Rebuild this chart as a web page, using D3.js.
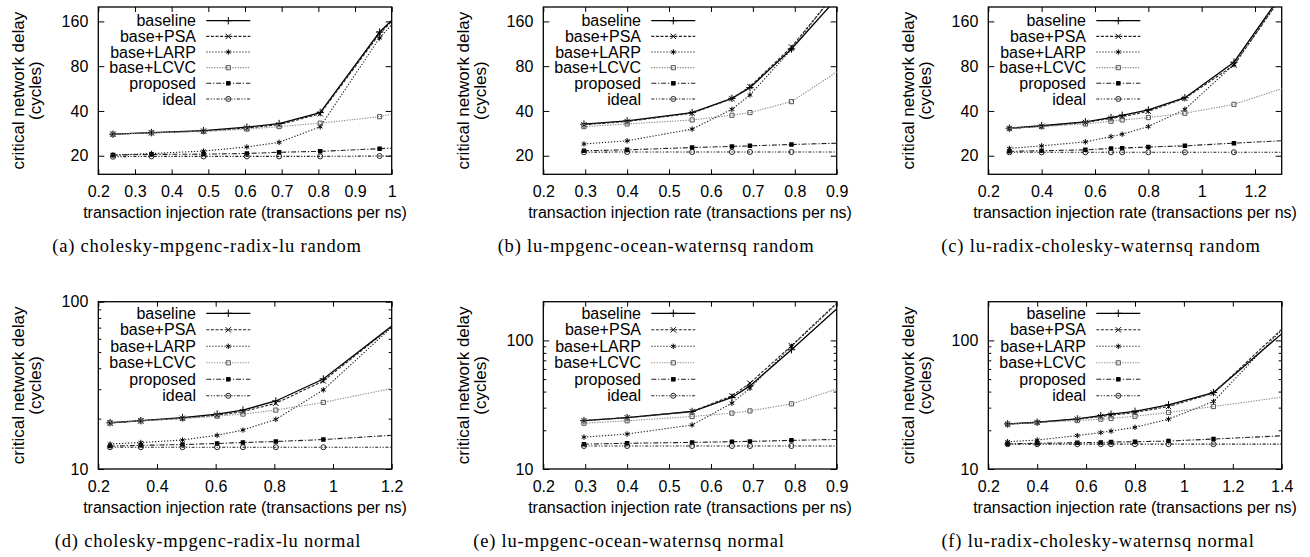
<!DOCTYPE html>
<html>
<head>
<meta charset="utf-8">
<script src="https://cdn.jsdelivr.net/npm/d3@7"></script>
<style>
  body { margin: 0; background: #fff; }
  svg { display: block; }
</style>
</head>
<body>
<div id="chart"></div>
<script>
// series names, same order in every delay table
var seriesNames = ["baseline", "base+PSA", "base+LARP", "base+LCVC", "proposed", "ideal"];

// injection rates (transactions per ns) for the three workload mixes
var ratesA = [0.24, 0.345, 0.487, 0.605, 0.693, 0.805, 0.967, 1.25];
var ratesB = [0.297, 0.40, 0.555, 0.65, 0.693, 0.792, 0.95];
var ratesC = [0.279, 0.40, 0.564, 0.66, 0.702, 0.80, 0.937, 1.121, 1.45];

// critical network delay (cycles), rows = seriesNames
var delaysARandom = [
    [27.9, 28.6, 29.5, 31.1, 32.9, 39.0, 135.7, 637],
    [27.9, 28.5, 29.3, 30.7, 32.3, 38.3, 132, 688],
    [20.2, 20.7, 21.5, 22.9, 24.6, 31.3, 123.8, 720],
    [27.9, 28.5, 29.1, 30.2, 31.4, 33.1, 36.6, 50.5],
    [20.2, 20.4, 20.5, 20.7, 21.1, 21.4, 22.3, 24.1],
    [19.7, 19.8, 19.8, 19.8, 19.8, 19.8, 19.9, 19.9]
];
var delaysBRandom = [
    [32.6, 34.3, 39.0, 48.6, 57.4, 104.5, 327],
    [32.3, 34.0, 38.6, 48.4, 58.3, 107.7, 375],
    [24.0, 25.2, 30.2, 41.0, 51.2, 103.7, 390],
    [31.4, 32.7, 34.8, 37.4, 39.0, 46.2, 90.2],
    [21.6, 21.9, 22.7, 23.1, 23.3, 23.8, 24.5],
    [21.1, 21.2, 21.2, 21.2, 21.2, 21.2, 21.2]
];
var delaysCRandom = [
    [30.6, 31.8, 33.8, 36.1, 37.4, 40.6, 49.1, 85.1, 588],
    [30.5, 31.5, 33.5, 35.6, 36.6, 39.8, 48.6, 81.3, 575],
    [22.4, 23.3, 24.8, 26.9, 27.9, 31.4, 41.0, 82.1, 568],
    [30.5, 31.4, 32.7, 34.1, 34.8, 36.1, 38.6, 44.3, 69.2],
    [21.4, 21.6, 21.9, 22.4, 22.5, 22.9, 23.3, 24.3, 26.0],
    [21.1, 21.1, 21.1, 21.1, 21.1, 21.1, 21.1, 21.1, 21.1]
];
var delaysANormal = [
    [18.9, 19.45, 20.3, 21.3, 22.5, 25.5, 34.5, 83.6],
    [18.8, 19.4, 20.1, 21.0, 22.0, 24.7, 33.6, 83.3],
    [14.1, 14.4, 14.9, 15.9, 17.1, 19.8, 29.7, 84.6],
    [18.9, 19.4, 20.0, 20.7, 21.3, 22.5, 25.0, 31.6],
    [13.7, 13.85, 14.0, 14.2, 14.4, 14.6, 15.0, 16.1],
    [13.5, 13.5, 13.5, 13.5, 13.5, 13.5, 13.5, 13.5]
];
var delaysBNormal = [
    [23.8, 25.1, 28.0, 36.0, 44.3, 84.6, 246],
    [23.8, 25.1, 28.0, 37.1, 46.5, 90.9, 278],
    [17.7, 18.7, 22.0, 32.5, 42.5, 89.8, 273],
    [22.7, 23.7, 25.6, 27.2, 28.3, 32.1, 47.2],
    [15.6, 15.85, 16.1, 16.3, 16.4, 16.7, 17.1],
    [15.1, 15.1, 15.1, 15.1, 15.1, 15.1, 15.1]
];
var delaysCNormal = [
    [22.4, 23.1, 24.5, 26.0, 26.7, 28.1, 31.5, 39.3, 136],
    [22.3, 23.0, 24.4, 25.6, 26.2, 27.5, 30.6, 38.9, 150],
    [16.3, 16.8, 18.2, 19.2, 19.7, 21.1, 24.4, 33.5, 152],
    [22.3, 23.0, 23.8, 24.4, 24.7, 25.7, 27.5, 30.6, 37.3],
    [15.7, 15.85, 16.0, 16.1, 16.2, 16.3, 16.5, 17.1, 18.3],
    [15.6, 15.6, 15.6, 15.6, 15.6, 15.6, 15.6, 15.6, 15.6]
];

// axis ticks
var yTicksRandom = [20, 40, 80, 160];
var yTicksNormal = [10, 100];
var yMinorNormal = [20, 30, 40, 50, 60, 70, 80, 90];

var captions = [
    "(a)  cholesky-mpgenc-radix-lu  random",
    "(b)  lu-mpgenc-ocean-waternsq  random",
    "(c)  lu-radix-cholesky-waternsq  random",
    "(d)  cholesky-mpgenc-radix-lu  normal",
    "(e)  lu-mpgenc-ocean-waternsq  normal",
    "(f)  lu-radix-cholesky-waternsq  normal"
];

// panel layout
var panels = [
    {left: 98.3, top: 7, xMax: 1.0, xStep: 0.1, rates: ratesA, delays: delaysARandom, yDom: [15, 200], log2: true, capX: 207, legTop: 13.7, legGap: 15.65},
    {left: 543.3, top: 7, xMax: 0.9, xStep: 0.1, rates: ratesB, delays: delaysBRandom, yDom: [15, 200], log2: true, capX: 656, legTop: 13.7, legGap: 15.65},
    {left: 988.3, top: 7, xMax: 1.3, xStep: 0.2, rates: ratesC, delays: delaysCRandom, yDom: [15, 200], log2: true, capX: 1101, legTop: 13.7, legGap: 15.65},
    {left: 98.3, top: 301.7, xMax: 1.2, xStep: 0.2, rates: ratesA, delays: delaysANormal, yDom: [10, 100], log2: false, capX: 208, legTop: 11.6, legGap: 16.5},
    {left: 543.3, top: 301.7, xMax: 0.9, xStep: 0.1, rates: ratesB, delays: delaysBNormal, yDom: [10, 200], log2: false, capX: 629, legTop: 11.6, legGap: 16.5},
    {left: 988.3, top: 301.7, xMax: 1.4, xStep: 0.2, rates: ratesC, delays: delaysCNormal, yDom: [10, 200], log2: false, capX: 1098, legTop: 11.6, legGap: 16.5}
];
var width = 293.4, height = 167.3;

var styles = [
    {stroke: "#000", dash: null, sw: 1.3, sym: d3.symbolPlus, size: 20, fill: "none", mstroke: "#000"},
    {stroke: "#222", dash: "3,1.6", sw: 1.1, sym: d3.symbolTimes, size: 20, fill: "none", mstroke: "#000"},
    {stroke: "#222", dash: "1.3,1.7", sw: 1.1, sym: d3.symbolAsterisk, size: 20, fill: "none", mstroke: "#000"},
    {stroke: "#8a8a8a", dash: "1.3,1.3", sw: 1.1, sym: d3.symbolSquare2, size: 22, fill: "none", mstroke: "#555"},
    {stroke: "#222", dash: "5,1.8,1.3,1.8", sw: 1.1, sym: d3.symbolSquare, size: 20, fill: "#000", mstroke: "#000"},
    {stroke: "#222", dash: "3,1.6,1.2,1.6,1.2,1.6", sw: 1.1, sym: d3.symbolCircle, size: 20, fill: "none", mstroke: "#222"}
];

var sans = "'Liberation Sans', Arial, Helvetica, sans-serif";
var fmt = function(d) { return String(+d.toFixed(1)); };

var svg = d3.select("#chart")
    .append("svg")
    .attr("width", 1310)
    .attr("height", 557);

panels.forEach(function(p, pi) {
    var g = svg.append("g")
        .attr("transform", "translate(" + p.left + "," + p.top + ")")
        .style("font-family", sans);

    var x = d3.scaleLinear().domain([0.2, p.xMax]).range([0, width]);
    var y = d3.scaleLog().domain(p.yDom).range([height, 0]);
    if (p.log2) y.base(2);

    var xTicks = d3.range(0.2, p.xMax + 1e-9, p.xStep).map(function(v) { return +v.toFixed(2); });

    // clip for data
    g.append("clipPath").attr("id", "clip" + pi)
        .append("rect").attr("width", width).attr("height", height);

    // x axis
    var xa = g.append("g").attr("transform", "translate(0," + height + ")")
        .call(d3.axisBottom(x).tickValues(xTicks).tickFormat(fmt).tickSize(-5).tickPadding(11.3));
    xa.select(".domain").remove();
    xa.selectAll("text").style("font-size", "16px").style("font-family", sans).attr("fill", "#000");

    var xt = g.append("g").call(d3.axisTop(x).tickValues(xTicks).tickFormat("").tickSize(-5));
    xt.select(".domain").remove();

    // y axis
    var yTicks = p.log2 ? yTicksRandom : yTicksNormal;
    var ya = g.append("g")
        .call(d3.axisLeft(y).tickValues(yTicks).tickFormat(d3.format("d")).tickSize(-6).tickPadding(10));
    ya.select(".domain").remove();
    ya.selectAll("text").style("font-size", "16px").style("font-family", sans).attr("fill", "#000");

    var yr = g.append("g").attr("transform", "translate(" + width + ",0)")
        .call(d3.axisRight(y).tickValues(yTicks).tickFormat("").tickSize(-6));
    yr.select(".domain").remove();

    if (!p.log2) {
        var minors = yMinorNormal.filter(function(v) { return v < p.yDom[1]; });
        [d3.axisLeft(y), d3.axisRight(y)].forEach(function(ax, k) {
            var m = g.append("g")
                .attr("transform", k ? "translate(" + width + ",0)" : null)
                .call(ax.tickValues(minors).tickFormat("").tickSize(-3));
            m.select(".domain").remove();
        });
    }

    // frame
    g.append("rect").attr("width", width).attr("height", height)
        .attr("fill", "none").attr("stroke", "#000").attr("stroke-width", 1.3);

    // lines and points
    var plot = g.append("g").attr("clip-path", "url(#clip" + pi + ")");
    var line = d3.line()
        .x(function(d) { return x(d[0]); })
        .y(function(d) { return y(d[1]); });

    p.delays.forEach(function(vals, si) {
        var st = styles[si];
        var pts = p.rates.map(function(r, i) { return [r, vals[i]]; });
        plot.append("path")
            .attr("d", line(pts))
            .attr("fill", "none")
            .attr("stroke", st.stroke)
            .attr("stroke-width", st.sw)
            .attr("stroke-dasharray", st.dash);
        plot.selectAll(null)
            .data(pts)
            .enter()
            .append("path")
            .attr("transform", function(d) { return "translate(" + x(d[0]) + "," + y(d[1]) + ")"; })
            .attr("d", d3.symbol().type(st.sym).size(st.size))
            .attr("fill", st.fill)
            .attr("stroke", st.fill == "none" ? st.mstroke : "none")
            .attr("stroke-width", 1);
    });

    // legend
    var leg = g.append("g");
    seriesNames.forEach(function(name, si) {
        var st = styles[si];
        var ly = p.legTop + si * p.legGap;
        leg.append("text")
            .attr("x", 97.7).attr("y", ly)
            .attr("text-anchor", "end")
            .attr("dy", "0.35em")
            .style("font-size", "16px")
            .text(name);
        leg.append("line")
            .attr("x1", 108).attr("x2", 152).attr("y1", ly).attr("y2", ly)
            .attr("stroke", st.stroke).attr("stroke-width", st.sw)
            .attr("stroke-dasharray", st.dash);
        leg.append("path")
            .attr("transform", "translate(130," + ly + ")")
            .attr("d", d3.symbol().type(st.sym).size(st.size))
            .attr("fill", st.fill)
            .attr("stroke", st.fill == "none" ? st.mstroke : "none")
            .attr("stroke-width", 1);
    });

    // y title
    var yt = g.append("text")
        .attr("transform", "translate(-71.5," + (height / 2) + ") rotate(-90)")
        .attr("text-anchor", "middle")
        .style("font-size", "17px");
    yt.append("tspan").attr("x", 0).attr("y", -8.5).attr("dy", "0.35em").text("critical network delay");
    yt.append("tspan").attr("x", 0).attr("y", 8.5).attr("dy", "0.35em").text("(cycles)");

    // x title
    g.append("text")
        .attr("x", width / 2).attr("y", height + 44)
        .attr("text-anchor", "middle")
        .style("font-size", "16px")
        .text("transaction injection rate (transactions per ns)");

    // caption
    svg.append("text")
        .attr("x", p.capX).attr("y", p.top + height + 78)
        .attr("text-anchor", "middle")
        .style("font-family", "'Liberation Serif', 'Times New Roman', serif")
        .style("font-size", "18.5px")
        .style("letter-spacing", "0.8px")
        .text(captions[pi]);
});
</script>
</body>
</html>
